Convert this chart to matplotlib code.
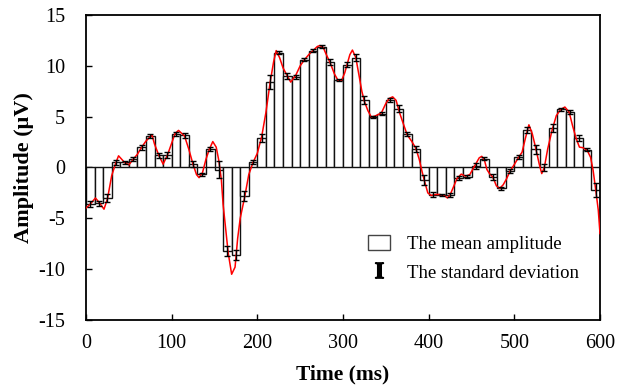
import matplotlib
matplotlib.use("Agg")
import matplotlib.pyplot as plt
from matplotlib.patches import Patch
from matplotlib.lines import Line2D
import numpy as np

plt.rcParams['font.family'] = ['Liberation Serif', 'DejaVu Serif']
plt.rcParams['axes.unicode_minus'] = False
plt.rcParams['mathtext.fontset'] = 'stix'

# 10-ms window mean amplitudes (bars start at 0, 10, ..., 590 ms)
bin_start = list(range(0, 600, 10))
mean_amp = [-3.6, -3.5, -3.0, 0.5, 0.5, 0.8, 2.0, 3.1, 1.2, 1.2,
            3.3, 3.15, 0.3, -0.65, 1.85, -0.2, -8.2, -8.6, -2.8, 0.5,
            2.9, 8.4, 11.3, 9.0, 8.9, 10.6, 11.5, 11.9, 10.4, 8.6,
            10.1, 10.8, 6.6, 5.0, 5.3, 6.6, 5.8, 3.25, 1.85, -1.25,
            -2.7, -2.7, -2.75, -1.0, -0.9, 0.15, 0.85, -0.95, -2.05, -0.35,
            1.0, 3.65, 1.8, 0.0, 3.85, 5.75, 5.45, 2.9, 1.75, -2.2]
std_amp = [0.3, 0.25, 0.35, 0.25, 0.15, 0.2, 0.25, 0.15, 0.25, 0.3,
           0.2, 0.25, 0.3, 0.15, 0.2, 0.8, 0.5, 0.5, 0.5, 0.2,
           0.35, 0.7, 0.15, 0.3, 0.2, 0.15, 0.15, 0.1, 0.3, 0.1,
           0.25, 0.35, 0.4, 0.1, 0.15, 0.2, 0.35, 0.2, 0.3, 0.5,
           0.25, 0.1, 0.2, 0.2, 0.15, 0.25, 0.15, 0.3, 0.15, 0.2,
           0.2, 0.3, 0.45, 0.3, 0.4, 0.15, 0.2, 0.3, 0.15, 0.7]

# continuous waveform (ms, uV)
wave_t = [0, 5, 11, 15, 21, 25, 30, 35, 38, 45, 50, 55, 60, 65, 70, 77,
          80, 85, 90, 95, 100, 104, 108, 115, 120, 125, 129, 132, 136, 140, 144, 148,
          152, 155, 158, 160, 163, 166, 170, 174, 177, 180, 185, 190, 195, 200,
          205, 210, 215, 219, 222, 226, 230, 235, 239, 245, 250, 255, 260, 265,
          270, 273, 277, 280, 285, 290, 294, 298, 302, 305, 308, 311, 315, 318,
          322, 325, 329, 333, 337, 341, 345, 350, 354, 358, 362, 366, 370, 375,
          380, 385, 389, 392, 395, 399, 403, 408, 413, 418, 422, 425, 429, 433,
          438, 443, 448, 452, 456, 459, 462, 465, 468, 471, 475, 479, 483, 487,
          491, 495, 500, 505, 509, 513, 517, 521, 525, 529, 532, 535, 539, 544,
          549, 554, 559, 564, 568, 572, 576, 580, 585, 589, 592, 595, 598, 600]
wave_v = [-4.0, -3.6, -3.0, -3.4, -4.1, -3.1, -0.8, 0.5, 1.15, 0.5, 0.25, 0.8, 1.3, 2.0, 2.6, 3.2,
          2.3, 1.2, 0.33, 1.2, 2.4, 3.35, 3.65, 3.1, 1.8, 0.3, -0.7, -1.0, -0.5, 0.8, 1.8, 2.55,
          2.0, 0.7, -1.2, -3.6, -6.0, -8.4, -10.5, -9.8, -7.0, -5.0, -3.0, -0.7, 0.5, 1.4,
          3.0, 5.4, 8.4, 10.4, 11.5, 10.8, 9.8, 9.0, 8.4, 9.1, 10.0, 10.6, 11.1, 11.5,
          11.9, 12.0, 11.8, 11.2, 10.3, 9.2, 8.6, 8.5, 9.3, 10.2, 11.1, 11.55, 10.8, 9.4,
          7.5, 6.5, 5.6, 4.97, 5.05, 5.2, 5.4, 6.3, 6.8, 6.95, 6.6, 5.4, 4.4, 3.2,
          2.6, 1.9, 0.8, -0.3, -1.3, -2.5, -2.75, -2.65, -2.65, -2.75, -3.0, -2.7, -1.9, -1.1,
          -0.65, -0.85, -0.7, -0.1, 0.5, 0.95, 1.1, 0.75, -0.2, -0.6, -0.95, -1.8, -2.05, -1.7,
          -1.1, -0.35, 0.3, 1.0, 1.5, 2.9, 4.2, 3.3, 1.9, 0.36, -0.6, 0.0, 1.85, 3.65,
          5.1, 5.7, 5.95, 5.45, 4.1, 2.9, 2.0, 1.95, 1.7, 1.0, -0.3, -2.2, -4.2, -6.5]

fig = plt.figure(figsize=(6.36, 3.86), dpi=100)
ax = fig.add_axes([86/636, 1-320/386, 514/636, 305/386])

ax.bar(bin_start, mean_amp, width=10, align='edge', facecolor='white',
       edgecolor='#111111', linewidth=1.0, zorder=2)
ax.plot(wave_t, wave_v, color='#ff0000', linewidth=1.1, zorder=3)
centers = [b + 5 for b in bin_start]
ax.errorbar(centers, mean_amp, yerr=std_amp, fmt='none', ecolor='black',
            elinewidth=1.0, capsize=2, capthick=1.0, zorder=4)

ax.set_xlim(0, 600)
ax.set_ylim(-15, 15)
ax.set_xticks(range(0, 601, 100))
ax.set_yticks(range(-15, 16, 5))
ax.tick_params(direction='in', length=4, width=1, labelsize=14.5)
ax.tick_params(axis='y', pad=15)
ax.tick_params(axis='x', pad=10)
for s in ax.spines.values():
    s.set_linewidth(1.3)
ax.set_xlabel('Time (ms)', fontsize=15.5, fontweight='bold', labelpad=8)
ax.set_ylabel('Amplitude (\u03bcV)', fontsize=16, fontweight='bold', labelpad=3)

h2 = Line2D([], [], linestyle='none', marker=r'$\mathbf{I}$', markersize=11,
            color='black')
h1 = Patch(facecolor='white', edgecolor='#444444', linewidth=1.0)
ax.legend([h1, h2], ['The mean amplitude', 'The standard deviation'],
          loc='upper left', bbox_to_anchor=(0.515, 0.335), frameon=False,
          fontsize=13.5, handlelength=1.2, handleheight=0.9, labelspacing=0.55,
          handletextpad=0.9)

fig.savefig('out.png', dpi=100)
